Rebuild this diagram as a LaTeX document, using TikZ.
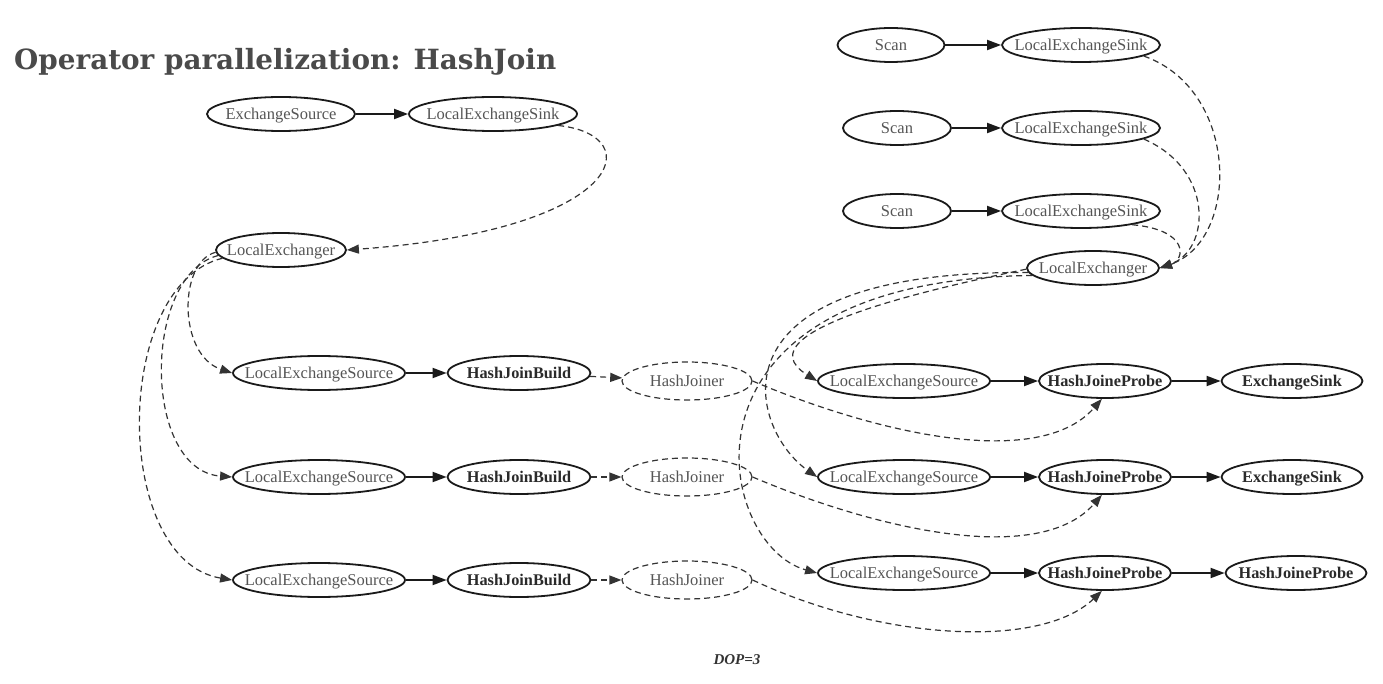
\documentclass[tikz,border=0pt]{standalone}
\usepackage{fontspec}
\setmainfont{Liberation Serif}
\newfontfamily\titlefont{DejaVu Serif}
\usetikzlibrary{shapes.geometric,arrows.meta}
\definecolor{txt}{HTML}{555555}
\definecolor{btxt}{HTML}{2A2A2A}
\definecolor{linec}{HTML}{1A1A1A}
\definecolor{dashc}{HTML}{333333}
\definecolor{titlec}{HTML}{4A4A4A}
\newcommand\nlab[1]{\makebox[0pt]{\raisebox{-0.33em}[0pt][0pt]{#1}}}
\tikzset{
  el/.style={ellipse, draw=linec, line width=1.8pt, fill=white, inner sep=0pt,
    minimum height=34pt, font=\fontsize{16.5}{19}\selectfont, text=txt},
  bel/.style={el, font=\fontsize{16.3}{19}\selectfont\bfseries, text=btxt},
  jel/.style={el, draw=dashc, line width=1.2pt, dash pattern=on 6pt off 4pt, minimum height=38pt},
  flow/.style={-{Triangle[length=14pt,width=10pt]}, line width=1.8pt, draw=linec},
  dep/.style={-{Triangle[length=12pt,width=9pt]}, line width=1.2pt, draw=dashc, dash pattern=on 6pt off 4pt}
}
\begin{document}
\begin{tikzpicture}[x=1pt,y=-1pt]
\fill[white] (0,0) rectangle (1383,684);
\useasboundingbox (0,0) rectangle (1383,684);

\node[anchor=west, text=titlec, inner sep=0pt] (title) at (14,62)
  {\resizebox{542pt}{!}{\titlefont\bfseries Operator parallelization: HashJoin}};

% left build side
\node[el, minimum width=148pt] (es) at (281,114) {\nlab{ExchangeSource}};
\node[el, minimum width=168pt] (lsk0) at (493,114) {\nlab{LocalExchangeSink}};
\node[el, minimum width=130pt] (lx1) at (281,250) {\nlab{LocalExchanger}};
\draw[flow] (es) -- (lsk0);
\draw[dep] (lsk0.-10) .. controls (650,135) and (625,230) .. (lx1.east);

\foreach \i/\y/\yj in {1/373/381,2/477/477,3/580/580} {
  \node[el, minimum width=172pt] (src\i) at (319,\y) {\nlab{LocalExchangeSource}};
  \node[bel, minimum width=143pt] (hjb\i) at (519,\y) {\nlab{HashJoinBuild}};
  \node[jel, minimum width=130pt] (hj\i) at (687,\yj) {\nlab{HashJoiner}};
  \draw[flow] (src\i) -- (hjb\i);
  \draw[dep] (hjb\i) -- (hj\i);
}
\draw[dep] (lx1.182) .. controls (178,262) and (178,355) .. (src1.west);
\draw[dep] (lx1.185) .. controls (142,275) and (142,470) .. (src2.west);
\draw[dep] (lx1.188) .. controls (112,285) and (112,560) .. (src3.west);

% right probe side
\node[el, minimum width=107pt] (scan1) at (891,45) {\nlab{Scan}};
\node[el, minimum width=108pt] (scan2) at (897,128) {\nlab{Scan}};
\node[el, minimum width=108pt] (scan3) at (897,211) {\nlab{Scan}};
\node[el, minimum width=158pt] (lsk1) at (1081,45) {\nlab{LocalExchangeSink}};
\node[el, minimum width=158pt] (lsk2) at (1081,128) {\nlab{LocalExchangeSink}};
\node[el, minimum width=158pt] (lsk3) at (1081,211) {\nlab{LocalExchangeSink}};
\node[el, minimum width=132pt] (lx2) at (1093,268) {\nlab{LocalExchanger}};
\draw[flow] (scan1) -- (lsk1);
\draw[flow] (scan2) -- (lsk2);
\draw[flow] (scan3) -- (lsk3);
\draw[dep] (lsk1.-10) .. controls (1240,90) and (1240,240) .. (lx2.east);
\draw[dep] (lsk2.-10) .. controls (1215,170) and (1210,250) .. (lx2.east);
\draw[dep] (lsk3.-15) .. controls (1190,230) and (1185,260) .. (lx2.east);

\foreach \i/\y in {1/381,2/477,3/573} {
  \node[el, minimum width=172pt] (psrc\i) at (904,\y) {\nlab{LocalExchangeSource}};
  \node[bel, minimum width=132pt] (hjp\i) at (1105,\y) {\nlab{HashJoineProbe}};
}
\node[bel, minimum width=141pt] (out1) at (1292,381) {\nlab{ExchangeSink}};
\node[bel, minimum width=141pt] (out2) at (1292,477) {\nlab{ExchangeSink}};
\node[bel, minimum width=141pt] (out3) at (1296,573) {\nlab{HashJoineProbe}};
\foreach \i in {1,2,3} {
  \draw[flow] (psrc\i) -- (hjp\i);
  \draw[flow] (hjp\i) -- (out\i);
}
\draw[dep] (lx2.181) .. controls (950,285) and (735,330) .. (psrc1.west);
\draw[dep] (lx2.184) .. controls (700,270) and (750,430) .. (psrc2.west);
\draw[dep] (lx2.187) .. controls (660,280) and (715,545) .. (psrc3.west);

\draw[dep] (hj1.east) .. controls (880,435) and (1040,470) .. (hjp1.-100);
\draw[dep] (hj2.east) .. controls (880,531) and (1040,566) .. (hjp2.-100);
\draw[dep] (hj3.east) .. controls (880,640) and (1040,650) .. (hjp3.-100);

\node[text=dashc, font=\fontsize{15}{17}\selectfont\bfseries\itshape] (dop) at (737,660) {DOP=3};
\end{tikzpicture}
\end{document}
